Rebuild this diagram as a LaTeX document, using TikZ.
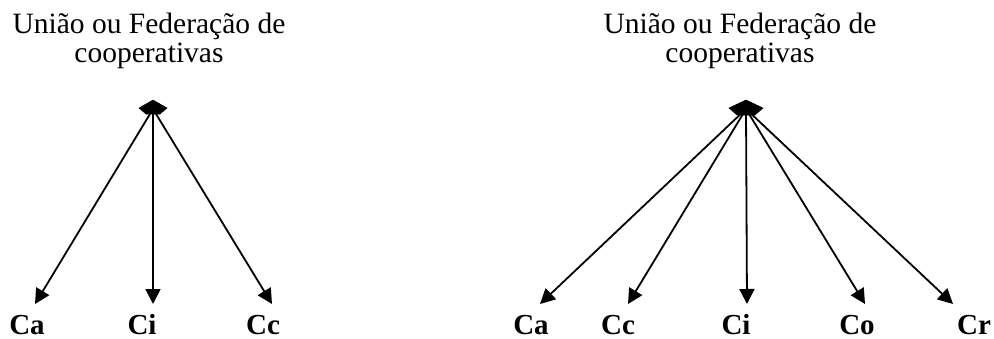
\documentclass[tikz,border=0pt]{standalone}
\usepackage{fontspec}
\setmainfont{Liberation Serif}
\usetikzlibrary{arrows.meta}
\begin{document}
\begin{tikzpicture}[x=1pt,y=-1pt,
  title/.style={font=\fontsize{29.5}{34}\selectfont, anchor=base, inner sep=0pt},
  lab/.style={font=\fontsize{29}{32}\selectfont\bfseries, anchor=base, inner sep=0pt},
  arr/.style={line width=1.8pt, -{Triangle[length=15pt,width=15pt]}},
  blob/.style={fill=black, draw=black, line width=0.5pt}]
\useasboundingbox (0,0) rectangle (994,338);
% left
\node[title] (t1a) at (149,33) {União ou Federação de};
\node[title] (t1b) at (149,62) {cooperativas};
\coordinate (h1) at (153,109);
\fill[blob] (153,100) -- (167,108) -- (160,114) -- (146,114) -- (139,108) -- cycle;
\coordinate (e1a) at (35,304);
\coordinate (e1i) at (153,304);
\coordinate (e1c) at (272,304);
\draw[arr] (h1) -- (e1a);
\draw[arr] (h1) -- (e1i);
\draw[arr] (h1) -- (e1c);
\node[lab] (l1a) at (27,334) {Ca};
\node[lab] (l1i) at (142,334) {Ci};
\node[lab] (l1c) at (263,334) {Cc};
% right
\node[title] (t2a) at (740,33) {União ou Federação de};
\node[title] (t2b) at (740,62) {cooperativas};
\coordinate (h2) at (746,109);
\fill[blob] (746,100) -- (763,108) -- (755,115) -- (737,115) -- (729,108) -- cycle;
\coordinate (e2a) at (540,304);
\coordinate (e2c) at (628,304);
\coordinate (e2i) at (747,304);
\coordinate (e2o) at (865,304);
\coordinate (e2r) at (953,304);
\draw[arr] (h2) -- (e2a);
\draw[arr] (h2) -- (e2c);
\draw[arr] (h2) -- (e2i);
\draw[arr] (h2) -- (e2o);
\draw[arr] (h2) -- (e2r);
\node[lab] (l2a) at (531,334) {Ca};
\node[lab] (l2c) at (618,334) {Cc};
\node[lab] (l2i) at (736,334) {Ci};
\node[lab] (l2o) at (857,334) {Co};
\node[lab] (l2r) at (974,334) {Cr};
\end{tikzpicture}
\end{document}
